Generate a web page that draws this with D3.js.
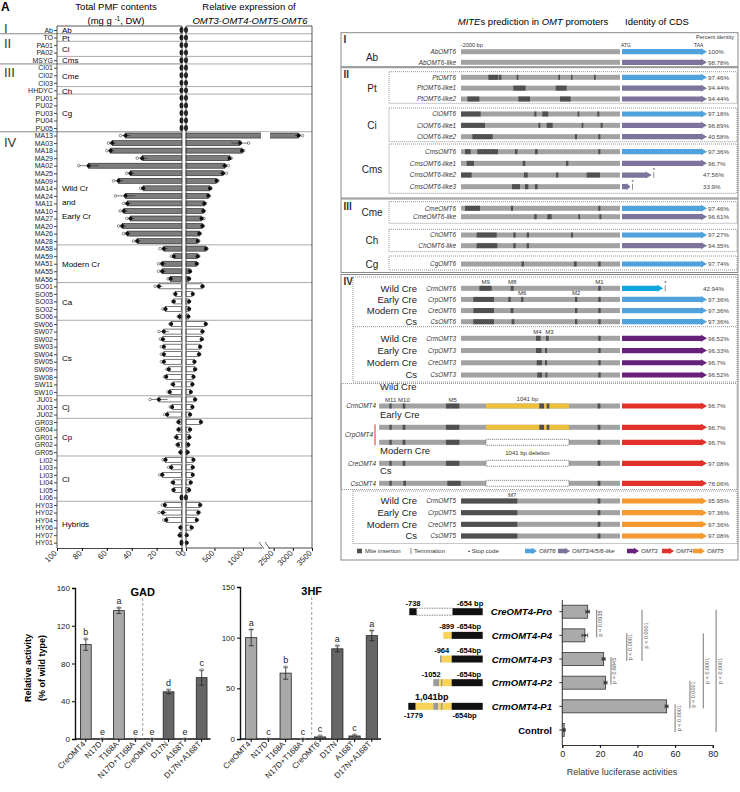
<!DOCTYPE html>
<html>
<head>
<meta charset="utf-8">
<script src="https://cdn.jsdelivr.net/npm/d3@7"></script>
<style>
body { margin: 0; background: #fff; }
svg { font-family: "Liberation Sans", Arial, sans-serif; }
</style>
</head>
<body>
<svg id="fig" width="740" height="792"></svg>
<script>
// ---------- data : A (PMF content / OMT expression) ----------
const accessions = ['Ab','TO','PA01','PA02','MSYG','CI01','CI02','CI03','HHDYC','PU01','PU02','PU03','PU04','PU05',
	'MA13','MA03','MA18','MA29','MA02','MA25','MA09','MA14','MA24','MA11','MA10','MA27','MA20','MA26','MA28',
	'MA58','MA59','MA51','MA55','MA56',
	'SO01','SO05','SO03','SO02','SO06',
	'SW06','SW07','SW02','SW03','SW04','SW05','SW09','SW08','SW11','SW10',
	'JU01','JU03','JU02',
	'GR03','GR04','GR01','GR02','GR05',
	'LI02','LI03','LI03','LI04','LI05','LI06',
	'HY03','HY02','HY04','HY06','HY07','HY01']
const groupNames = ['Ab','Pt','Ci','Cms','Cme','Ch','Cg','Wild Cr|and|Early Cr','Modern Cr','Ca','Cs','Cj','Cp','Cl','Hybrids']
const groupSizes = [1,1,2,1,3,1,5,15,5,5,10,3,5,6,6]
const sectionNames = ['I','II','III','IV']
const sectionGroups = [1,3,3,8]
const darkGroups = ['Wild Cr|and|Early Cr','Modern Cr']
const pmfContent = [0,0,0,0,0,0,0,0,0,0,0,0,0,0,
	45,55.7,57,31.6,74.6,41,50.6,30.8,45,43.6,46.3,41,47.6,43.6,35.6,
	14.2,6.2,15.5,15.5,8.8,
	18.2,4.8,6.2,12.9,1.6,
	8.3,14.2,15,14.2,14.2,14.2,10.2,12.3,6.7,9.4,
	18.2,7.5,11.5,
	2.2,2.2,4,2.8,0.8,
	12.9,8.3,15.5,6.7,6.2,0,
	13.4,15,12.3,0.8,1.4,0]
const pmfSd = [0,0,0,0,0,0,0,0,0,0,0,0,0,0,
	4,3,3,4,8,3,4,2,8,3,3,3,3,3,3,
	3,2,3,3,2,
	3,1,1,2,1,
	1,4,2,2,2,2,1.5,1.5,1,1.5,
	7,1.5,2,
	1,1,1,1,0.5,
	2,2,2,1,1,0.5,
	2,3,2,0.5,0.5,0.5]
const omtExpression = [0,0,0,0,0,0,0,0,0,0,0,0,0,0,
	3150,950,985,765,684,650,538,421,392,322,304,275,287,234,205,
	351,205,187,70,53,
	287,117,53,53,41,
	345,287,275,246,228,146,158,129,111,82,
	158,111,70,
	260,70,58,41,29,
	129,117,117,82,53,0,
	246,216,187,99,12,12]
const omtSd = [0,0,0,0,0,0,0,0,0,0,0,0,0,0,
	100,150,30,30,60,60,25,20,20,20,20,40,20,20,20,
	20,20,15,10,10,
	20,10,10,10,5,
	15,15,15,15,15,15,15,15,10,10,
	15,10,10,
	15,10,10,5,5,
	10,10,10,10,10,5,
	15,20,15,10,5,5]
const pmfTicks = [100,80,60,40,20,0]
const exprTicks = [0,500,1000,2500,3000,3500]

// ---------- data : B (MITEs in OMT promoters) ----------
const geneNames = ['AbOMT6','AbOMT6-like','PtOMT6','PtOMT6-like1','PtOMT6-like2','CiOMT6','CiOMT6-like1','CiOMT6-like2',
	'CmsOMT6','CmsOMT6-like1','CmsOMT6-like2','CmsOMT6-like3','CmeOMT6','CmeOMT6-like','ChOMT6','ChOMT6-like','CgOMT6',
	'CrmOMT6','CrpOMT6','CreOMT6','CsOMT6','CrmOMT3','CrpOMT3','CreOMT3','CsOMT3',
	'CrmOMT4','CrpOMT4','CrpOMT4','CreOMT4','CsOMT4','CrmOMT5','CrpOMT5','CreOMT5','CsOMT5']
const geneCds = ['OMT6','like','OMT6','like','like','OMT6','like','like','OMT6','like','like','like','OMT6','like','OMT6','like','OMT6',
	'wild','OMT6','OMT6','OMT6','OMT3','OMT3','OMT3','OMT3','OMT4','OMT4','OMT4','OMT4','OMT4','OMT5','OMT5','OMT5','OMT5']
const geneCdsLength = [1,1,1,1,1,1,1,1,1,1,0.35,0.1,1,1,1,1,1,0.485,1,1,1,1,1,1,1,1,1,1,1,1,1,1,1,1]
const geneIdentity = ['100%','98.78%','97.46%','94.44%','94.44%','97.18%','96.89%','40.58%','97.36%','96.7%','47.56%','33.9%',
	'97.46%','96.61%','97.27%','94.35%','97.74%','42.94%','97.36%','97.36%','97.36%','96.52%','96.33%','96.7%','96.52%',
	'96.7%','96.7%','96.7%','97.08%','78.06%','95.95%','97.36%','97.36%','97.08%']
const genePromoterStart = [-2000,-2000,-2000,-2000,-2000,-2000,-2000,-2000,-2000,-2000,-2000,-2000,-2000,-2000,-2000,-2000,-2000,
	-2000,-2000,-2000,-2000,-2000,-2000,-2000,-2000,-3030,-3030,-3030,-3030,-3030,-2000,-2000,-2000,-2000]
const geneInsert = [null,null,null,null,null,null,null,null,null,null,null,null,null,null,null,null,null,
	null,null,null,null,null,null,null,null,'ins','ins','del','del','del',null,null,null,null]
const insertRegion = [-1686,-642]   // 1041 bp
const geneMites = [
	[], [],
	[[-1656,-1530],[-1520,-1492],[-1300,-1279],[-776,-755],[-616,-600],[-327,-306]],
	[[-1342,-1187],[-809,-671]],
	[[-1920,-1769],[-1279,-1132],[-755,-621]],
	[[-2000,-1753],[-1078,-1052],[-977,-902],[-533,-512],[-285,-260]],
	[[-2000,-1698],[-1027,-1002],[-922,-847],[-482,-461],[-243,-218]],
	[[-1857,-1602],[-566,-541],[-273,-247]],
	[[-1950,-1878],[-1795,-1535],[-1321,-1291],[-1069,-1036],[-273,-247]],
	[[-1929,-1837],[-1224,-1191],[-679,-650]],
	[[-2000,-1866],[-1208,-1161],[-805,-776],[-419,-252]],
	[[-1359,-1258],[-1195,-1153],[-1069,-1036]],
	[[-1950,-1761],[-1371,-1346],[-273,-247]],
	[[-1078,-1048],[-915,-860],[-524,-503],[-260,-235]],
	[[-1803,-1551],[-1342,-1312],[-1174,-1145],[-616,-591]],
	[[-1803,-1543],[-1342,-1312],[-1174,-1145]],
	[[-1237,-1208],[-579,-545],[-273,-243]],
	[[-1769,-1614],[-1375,-1338],[-273,-243]],
	[[-1845,-1585],[-1405,-1375],[-1245,-1216],[-566,-537],[-273,-243]],
	[[-1845,-1585],[-1375,-1342],[-566,-537],[-273,-243]],
	[[-1845,-1585],[-1363,-1329],[-566,-537],[-273,-243]],
	[[-1057,-998],[-931,-897],[-273,-243]],
	[[-1057,-986],[-943,-918],[-273,-243]],
	[[-1048,-981],[-943,-918],[-273,-243]],
	[[-1040,-981],[-939,-914],[-273,-243]],
	[[-2901,-2872],[-2734,-2700],[-2189,-2021],[-1015,-956],[-922,-889],[-281,-247]],
	[[-2901,-2872],[-2734,-2700],[-2189,-2021],[-1015,-956],[-922,-889],[-281,-247]],
	[[-2901,-2872],[-2734,-2700],[-2189,-2021],[-281,-247]],
	[[-2901,-2872],[-2734,-2700],[-2189,-2021],[-281,-247]],
	[[-2901,-2872],[-2725,-2692],[-2172,-2004],[-281,-247]],
	[[-2000,-1291],[-281,-247]],
	[[-2000,-1291],[-281,-247]],
	[[-2000,-1291],[-281,-247]],
	[[-2000,-1291],[-281,-247]]
]
const miteLabels = [['M9',17,-1690],['M8',17,-1355],['M1',17,-258],['M6',18,-1230],['M2',18,-552],
	['M4',21,-1040],['M3',21,-889],['M11',25,-2885],['M10',25,-2718],['M5',25,-2105],['M7',30,-1355]]
const ivTypes = ['Wild Cre','Early Cre','Modern Cre','Cs']
const legendItems = ['OMT6','OMT3/4/5/6-like','OMT3','OMT4','OMT5']

// ---------- data : enzyme activity ----------
const variants = ['CreOMT4','N17D','T168A','N17D+T168A','CreOMT6','D17N','A168T','D17N+A168T']
const gadActivity = [100,0,136,0,0,50,0,65]
const gadSd = [6,0,3,0,0,2,0,8]
const gadLetters = ['b','e','a','e','e','d','e','c']
const hfActivity = [100,0,65,0,2,89,3,102]
const hfSd = [8,0,6,0,1,3,1,5]
const hfLetters = ['a','c','b','c','c','a','c','a']

// ---------- data : luciferase ----------
const constructs = ['CreOMT4-Pro','CrmOMT4-P4','CrmOMT4-P3','CrmOMT4-P2','CrmOMT4-P1','Control']
const lucActivity = [13.5,12,22,23,55.5,1]
const lucSd = [1,1.5,0.8,0.8,0.8,0.5]
const lucTests = [[0,1,'p = 0.0935',18.3],[2,3,'p = 0.6845',25.9],[1,2,'p < 0.0001',34.3],[0,2,'p < 0.0001',42.4],
	[4,5,'p < 0.0001',60],[3,4,'p < 0.0001',67.9],[1,4,'p < 0.0001',75],[0,5,'p < 0.0001',81.8]]

const svg = d3.select('#fig')
const ink = '#222'

// =============== A ===============
const A = svg.append('g')
A.append('text').attr('x', 1).attr('y', 11).text('A').style('font-size', '12px').style('font-weight', 'bold')

const rowY = d3.scalePoint().domain(d3.range(accessions.length)).range([30, 542.7])
const xL = d3.scaleLinear().domain([100, 0]).range([57, 181.5])
const xR = d3.scaleLinear().domain([0, 1300, 2300, 3500]).range([186, 260, 266, 312])
const plotTop = 26, plotBottom = 548, step = rowY.step()

// titles
A.append('text').attr('x', 116).attr('y', 10).attr('text-anchor', 'middle').style('font-size', '9.5px').text('Total PMF contents')
const t2 = A.append('text').attr('x', 116).attr('y', 23.5).attr('text-anchor', 'middle').style('font-size', '9.5px')
t2.append('tspan').text('(mg g ')
t2.append('tspan').attr('dy', -3).style('font-size', '6.5px').text('-1')
t2.append('tspan').attr('dy', 3).text(', DW)')
A.append('text').attr('x', 249).attr('y', 10).attr('text-anchor', 'middle').style('font-size', '9.5px').text('Relative expression of')
A.append('text').attr('x', 250).attr('y', 23.5).attr('text-anchor', 'middle').style('font-size', '9.5px')
	.style('font-style', 'italic').text('OMT3-OMT4-OMT5-OMT6')

// groups
let start = 0
const groupStart = groupSizes.map((n) => { const s = start; start += n; return s })
const groupOf = []
groupSizes.forEach((n, gi) => { for (let k = 0; k < n; k++) groupOf.push(gi) })

let gcount = 0
const sectionFirstGroup = sectionGroups.map((n) => { const s = gcount; gcount += n; return s })

groupStart.forEach((s, gi) => {
	if (gi === 0) return
	const y = rowY(s) - step / 2
	const isSection = sectionFirstGroup.includes(gi)
	A.append('line').attr('x1', isSection ? 0 : 57).attr('x2', 182).attr('y1', y).attr('y2', y)
		.attr('stroke', isSection ? '#888' : '#aaa').attr('stroke-width', 1)
	A.append('line').attr('x1', 186).attr('x2', 312).attr('y1', y).attr('y2', y)
		.attr('stroke', '#aaa').attr('stroke-width', 1)
})

// section numerals
const numeralShift = [3, 10.5, 9.5, 11]
sectionFirstGroup.forEach((gi, si) => {
	const y = rowY(groupStart[gi])
	A.append('text').attr('x', 4).attr('y', y + numeralShift[si]).text(sectionNames[si])
		.style('font-size', '13px').attr('fill', '#333')
})

// group labels
groupNames.forEach((name, gi) => {
	const n = groupSizes[gi]
	const cy = (rowY(groupStart[gi]) + rowY(groupStart[gi] + n - 1)) / 2
	const lines = name.split('|')
	lines.forEach((ln, li) => {
		A.append('text').attr('x', 62).attr('y', cy + 3.3 + (lines.length > 1 ? li * 14 - 1 : 0))
			.style('font-size', '8px').text(ln)
	})
})

// bars
const bars = A.append('g')
accessions.forEach((name, i) => {
	const y = rowY(i)
	const dark = darkGroups.includes(groupNames[groupOf[i]])
	const fill = dark ? '#7d7d7d' : '#fff'
	if (pmfContent[i] > 0) {
		bars.append('rect').attr('x', xL(pmfContent[i])).attr('y', y - 2.5)
			.attr('width', xL(0) - xL(pmfContent[i])).attr('height', 5)
			.attr('fill', fill).attr('stroke', ink).attr('stroke-width', 0.6)
	}
	if (omtExpression[i] > 0) {
		bars.append('rect').attr('x', xR(0)).attr('y', y - 2.5)
			.attr('width', xR(omtExpression[i]) - xR(0)).attr('height', 5)
			.attr('fill', fill).attr('stroke', ink).attr('stroke-width', 0.6)
		if (omtExpression[i] > 1300) {
			bars.append('rect').attr('x', xR(1300) + 1).attr('y', y - 3.5).attr('width', xR(2300) - xR(1300) + 3)
				.attr('height', 7).attr('fill', '#fff')
		}
	}
})

// points
const pts = A.append('g')
accessions.forEach((name, i) => {
	const y = rowY(i)
	if (pmfContent[i] === 0) {
		pts.append('ellipse').attr('cx', xL(0)).attr('cy', y).attr('rx', 1.9).attr('ry', 2.9).attr('fill', '#111')
	} else {
		pts.append('line').attr('x1', xL(pmfContent[i] - pmfSd[i])).attr('x2', xL(pmfContent[i] + pmfSd[i]))
			.attr('y1', y).attr('y2', y).attr('stroke', ink).attr('stroke-width', 0.6)
		pts.append('circle').attr('cx', xL(pmfContent[i] + pmfSd[i])).attr('cy', y).attr('r', 1.3)
			.attr('fill', '#fff').attr('stroke', ink).attr('stroke-width', 0.5)
		pts.append('circle').attr('cx', xL(pmfContent[i])).attr('cy', y).attr('r', 2).attr('fill', '#111')
	}
	if (omtExpression[i] === 0) {
		pts.append('ellipse').attr('cx', xR(0)).attr('cy', y).attr('rx', 1.9).attr('ry', 2.9).attr('fill', '#111')
	} else {
		pts.append('line').attr('x1', xR(Math.max(0, omtExpression[i] - omtSd[i]))).attr('x2', xR(omtExpression[i] + omtSd[i]))
			.attr('y1', y).attr('y2', y).attr('stroke', ink).attr('stroke-width', 0.6)
		pts.append('circle').attr('cx', xR(omtExpression[i] + omtSd[i])).attr('cy', y).attr('r', 1.3)
			.attr('fill', '#fff').attr('stroke', ink).attr('stroke-width', 0.5)
		pts.append('circle').attr('cx', xR(omtExpression[i])).attr('cy', y).attr('r', 2).attr('fill', '#111')
	}
})

// frames
A.append('path').attr('d', `M57,${plotBottom}V${plotTop}H182V${plotBottom}`).attr('fill', 'none').attr('stroke', '#444').attr('stroke-width', 0.9)
A.append('path').attr('d', `M186,${plotBottom}V${plotTop}H312V${plotBottom}`).attr('fill', 'none').attr('stroke', '#444').attr('stroke-width', 0.9)

// axes
const rowAxis = A.append('g').attr('transform', 'translate(57,0)')
	.call(d3.axisLeft(rowY).tickSize(3).tickPadding(1).tickFormat((i) => accessions[i]))
rowAxis.select('.domain').remove()
rowAxis.selectAll('text').style('font-size', '7px').attr('fill', ink)
rowAxis.selectAll('line').attr('stroke', '#444')

function rotateTicks(sel, size) {
	sel.selectAll('text').attr('x', -4).attr('y', 4).attr('dy', 0)
		.attr('transform', 'rotate(-45)').style('text-anchor', 'end').style('font-size', size).attr('fill', ink)
}
const axL = A.append('g').attr('transform', `translate(0,${plotBottom})`)
	.call(d3.axisBottom(xL).tickValues(pmfTicks).tickSize(3).tickFormat(d3.format('d')))
axL.select('.domain').attr('stroke', '#444')
rotateTicks(axL, '8px')
const axR = A.append('g').attr('transform', `translate(0,${plotBottom})`)
	.call(d3.axisBottom(xR).tickValues(exprTicks).tickSize(3).tickFormat(d3.format('d')))
axR.select('.domain').remove()
rotateTicks(axR, '8px')
A.append('line').attr('x1', 186).attr('x2', xR(1300) + 2).attr('y1', plotBottom).attr('y2', plotBottom).attr('stroke', '#444')
A.append('line').attr('x1', xR(2300) + 2).attr('x2', 312).attr('y1', plotBottom).attr('y2', plotBottom).attr('stroke', '#444')
;[xR(1300) + 2, xR(2300) + 2].forEach((x) => {
	A.append('line').attr('x1', x - 3).attr('x2', x + 2).attr('y1', plotBottom - 6).attr('y2', plotBottom + 1)
		.attr('stroke', '#444').attr('stroke-width', 0.8)
})

// =============== B ===============
const B = svg.append('g')
const px = d3.scaleLinear().domain([-2000, 0]).range([461, 620])
const cdsX = d3.scaleLinear().domain([0, 1]).range([622, 707])
const cdsColor = { OMT6: '#4fa2db', wild: '#0ea5dd', like: '#7e739c', OMT3: '#68217a', OMT4: '#e2312b', OMT5: '#f49a30' }
const promoterGrey = '#a2a2a2', miteGrey = '#505050', insYellow = '#ecc03c'

B.append('text').attr('x', 533).attr('y', 25).attr('text-anchor', 'middle').style('font-size', '9.5px')
	.call((t) => { t.append('tspan').style('font-style', 'italic').text('MITE'); t.append('tspan').text('s prediction in ');
		t.append('tspan').style('font-style', 'italic').text('OMT'); t.append('tspan').text(' promoters') })
B.append('text').attr('x', 657).attr('y', 25).attr('text-anchor', 'middle').style('font-size', '9.5px').text('Identity of CDS')

// section frames
const sectionBoxes = [[32.7, 66.7], [67.7, 198], [199, 272.5], [274.5, 560]]
sectionBoxes.forEach(([y0, y1], si) => {
	B.append('rect').attr('x', 341).attr('y', y0).attr('width', 397).attr('height', y1 - y0)
		.attr('fill', 'none').attr('stroke', '#8a8a8a').attr('stroke-width', 1)
	B.append('text').attr('x', 343.5).attr('y', y0 + 10.5).text(sectionNames[si])
		.style('font-size', '10px').style('font-weight', 'bold').attr('fill', '#333')
})
const dottedBoxes = [[389, 71.7, 103.3], [389, 108, 141.7], [389, 144, 193.3], [389, 201.7, 223.3], [389, 229.3, 251.7],
	[389, 256, 270], [353, 277, 382], [341, 383.5, 489.5], [353, 491, 543.5]]
dottedBoxes.forEach(([x0, y0, y1]) => {
	B.append('rect').attr('x', x0).attr('y', y0).attr('width', 737 - x0).attr('height', y1 - y0)
		.attr('fill', 'none').attr('stroke', '#777').attr('stroke-width', 0.8).attr('stroke-dasharray', '1,1')
})
B.append('line').attr('x1', 353).attr('x2', 737).attr('y1', 326.7).attr('y2', 326.7)
	.attr('stroke', '#777').attr('stroke-width', 0.8).attr('stroke-dasharray', '1,1')

// row layout : gene rows inside each box
const rowLayout = [
	{ rows: [0, 1], y: [51.7, 62.3], label: 'Ab' },
	{ rows: [2, 3, 4], y: [77.3, 99], label: 'Pt' },
	{ rows: [5, 6, 7], y: [114, 136.7], label: 'Ci' },
	{ rows: [8, 9, 10, 11], y: [151.7, 186.7], label: 'Cms' },
	{ rows: [12, 13], y: [208.3, 216.7], label: 'Cme' },
	{ rows: [14, 15], y: [235, 245.7], label: 'Ch' },
	{ rows: [16], y: [264, 264], label: 'Cg' },
	{ rows: [17, 18, 19, 20], y: [288.3, 321.7] },
	{ rows: [21, 22, 23, 24], y: [338.3, 375] },
	{ rows: [25, 26, 27, 28, 29], y: [406, 483.3], irregular: [406, 427.3, 442.3, 463.3, 483.3] },
	{ rows: [30, 31, 32, 33], y: [501, 536] }
]
const geneY = []
rowLayout.forEach((box) => {
	const s = d3.scalePoint().domain(box.rows).range(box.y)
	box.rows.forEach((r, k) => { geneY[r] = box.irregular ? box.irregular[k] : s(r) })
	if (box.label) {
		B.append('text').attr('x', 372).attr('y', (box.y[0] + box.y[1]) / 2 + 3.5).attr('text-anchor', 'middle')
			.style('font-size', '10px').attr('fill', '#222').text(box.label)
	}
})

function arrowPath(x0, x1, y, h, H, tip) {
	return `M${x0},${y - h}H${x1 - tip}V${y - H}L${x1},${y}L${x1 - tip},${y + H}V${y + h}H${x0}Z`
}

geneNames.forEach((name, i) => {
	const y = geneY[i]
	const g = B.append('g')
	const isOMT4 = i >= 25 && i <= 29
	// gene label
	if (!isOMT4) {
		g.append('text').attr('x', 456).attr('y', y + 2.3).attr('text-anchor', 'end')
			.style('font-size', '6.4px').style('font-style', 'italic').attr('fill', '#333').text(name)
	} else if (i !== 26 && i !== 27) {
		g.append('text').attr('x', 376).attr('y', y + 2.3).attr('text-anchor', 'end')
			.style('font-size', '6.4px').style('font-style', 'italic').attr('fill', '#333').text(name)
	}
	// promoter
	g.append('rect').attr('x', px(genePromoterStart[i])).attr('y', y - 2.5)
		.attr('width', px(0) - px(genePromoterStart[i])).attr('height', 5).attr('fill', promoterGrey)
	if (geneInsert[i] === 'ins') {
		g.append('rect').attr('x', px(insertRegion[0])).attr('y', y - 2.5)
			.attr('width', px(insertRegion[1]) - px(insertRegion[0])).attr('height', 5).attr('fill', insYellow)
	} else if (geneInsert[i] === 'del') {
		g.append('rect').attr('x', px(insertRegion[0])).attr('y', y - 3)
			.attr('width', px(insertRegion[1]) - px(insertRegion[0])).attr('height', 6).attr('fill', '#fff')
			.attr('stroke', '#444').attr('stroke-width', 0.6).attr('stroke-dasharray', '1.2,0.8')
	}
	geneMites[i].forEach(([a, b]) => {
		g.append('rect').attr('x', px(a)).attr('y', y - 2.5).attr('width', Math.max(1.5, px(b) - px(a)))
			.attr('height', 5).attr('fill', miteGrey)
	})
	// CDS
	const x1 = cdsX(geneCdsLength[i])
	const tip = geneCdsLength[i] < 0.2 ? 4 : 6
	g.append('path').attr('d', arrowPath(cdsX(0), x1, y, 2.6, 3.5, tip)).attr('fill', cdsColor[geneCds[i]])
	if (geneCdsLength[i] < 1) {
		g.append('line').attr('x1', x1 + 2).attr('x2', x1 + 2).attr('y1', y - 3).attr('y2', y + 3)
			.attr('stroke', '#444').attr('stroke-width', 0.6)
		g.append('text').attr('x', x1 + 1).attr('y', y - 3).style('font-size', '6px').attr('fill', '#444').text('*')
	}
	g.append('text').attr('x', geneCdsLength[i] < 1 ? 703 : 708).attr('y', y + 2.2)
		.style('font-size', '6.2px').attr('fill', '#444').text(geneIdentity[i])
})

// section IV names
;[17, 21, 30].forEach((first) => {
	ivTypes.forEach((t, k) => {
		B.append('text').attr('x', 417).attr('y', geneY[first + k] + 3.4).attr('text-anchor', 'end')
			.style('font-size', '9.5px').attr('fill', '#222').text(t)
	})
})
;[[25, 'Wild Cre', -16], [26, 'Early Cre', -9], [28, 'Modern Cre', -9.3], [29, 'Cs', -9]].forEach(([r, t, dy]) => {
	B.append('text').attr('x', 380).attr('y', geneY[r] + dy).style('font-size', '9.5px').attr('fill', '#222').text(t)
})
B.append('text').attr('x', 373).attr('y', (geneY[26] + geneY[27]) / 2 + 2.3).attr('text-anchor', 'end')
	.style('font-size', '6.4px').style('font-style', 'italic').attr('fill', '#333').text('CrpOMT4')
B.append('line').attr('x1', 375).attr('x2', 375).attr('y1', geneY[26] - 3).attr('y2', geneY[27] + 3)
	.attr('stroke', '#e2312b').attr('stroke-width', 1)
B.append('text').attr('x', (px(insertRegion[0]) + px(insertRegion[1])) / 2).attr('y', geneY[25] - 5)
	.attr('text-anchor', 'middle').style('font-size', '6px').attr('fill', '#333').text('1041 bp')
B.append('text').attr('x', (px(insertRegion[0]) + px(insertRegion[1])) / 2).attr('y', geneY[27] + 12.5)
	.attr('text-anchor', 'middle').style('font-size', '6px').attr('fill', '#333').text('1041 bp deletion')
miteLabels.forEach(([lab, r, bp]) => {
	B.append('text').attr('x', px(bp)).attr('y', geneY[r] - 4).attr('text-anchor', 'middle')
		.style('font-size', '6px').attr('fill', '#333').text(lab)
})

// section I annotations
B.append('text').attr('x', px(-2000)).attr('y', 47).style('font-size', '5.5px').attr('fill', '#333').text('-2000 bp')
B.append('text').attr('x', 621).attr('y', 47).style('font-size', '5px').attr('fill', '#333').text('ATG')
B.append('text').attr('x', 694).attr('y', 47).style('font-size', '5px').attr('fill', '#333').text('TAA')
B.append('text').attr('x', 734).attr('y', 39).attr('text-anchor', 'end').style('font-size', '5.5px').attr('fill', '#333').text('Percent identity')

// legend
const ly = 551
B.append('rect').attr('x', 357).attr('y', ly - 2.3).attr('width', 5).attr('height', 4.6).attr('fill', miteGrey)
B.append('text').attr('x', 365).attr('y', ly + 2).style('font-size', '6px').attr('fill', '#333').text('Mite insertion')
B.append('line').attr('x1', 411).attr('x2', 411).attr('y1', ly - 3).attr('y2', ly + 3).attr('stroke', '#333').attr('stroke-width', 0.6)
B.append('text').attr('x', 414).attr('y', ly + 2).style('font-size', '6px').attr('fill', '#333').text('Termination')
B.append('text').attr('x', 468).attr('y', ly + 2).style('font-size', '6px').attr('fill', '#333').text('• Stop code')
const legendColors = ['OMT6', 'like', 'OMT3', 'OMT4', 'OMT5']
const legendX = [525, 558, 627, 662, 693]
legendItems.forEach((it, k) => {
	const x = legendX[k]
	B.append('path').attr('d', arrowPath(x, x + 12, ly, 2.2, 3.2, 5)).attr('fill', cdsColor[legendColors[k]])
	B.append('text').attr('x', x + 14).attr('y', ly + 2).style('font-size', '6px').style('font-style', 'italic')
		.attr('fill', '#333').text(it)
})

// =============== enzyme activity ===============
function activityChart(opts) {
	const g = svg.append('g')
	const y = d3.scaleLinear().domain([0, opts.max]).range([739, opts.top])
	const x = d3.scaleBand().domain(variants).range(opts.range).paddingInner(0.35).paddingOuter(0.15)
	const yAx = g.append('g').attr('transform', `translate(${opts.range[0] - 3},0)`)
		.call(d3.axisLeft(y).tickValues(opts.ticks).tickSize(3).tickPadding(2))
	yAx.selectAll('text').style('font-size', '8px').attr('fill', ink)
	yAx.select('.domain').attr('stroke-width', 1.4).attr('stroke', '#111')
	const xAx = g.append('g').attr('transform', 'translate(0,739)')
		.call(d3.axisBottom(x).tickSize(3).tickSizeOuter(0))
	xAx.select('.domain').attr('d', `M${opts.range[0] - 3},0H${opts.range[1] + 1}`).attr('stroke-width', 1.4).attr('stroke', '#111')
	rotateTicks(xAx, '8px')
	g.append('line').attr('x1', opts.dash).attr('x2', opts.dash).attr('y1', opts.top + 10).attr('y2', 739)
		.attr('stroke', '#888').attr('stroke-dasharray', '3,2').attr('stroke-width', 0.8)
	g.append('text').attr('x', opts.dash).attr('y', opts.top + 8).attr('text-anchor', 'middle')
		.style('font-size', '11px').style('font-weight', 'bold').text(opts.title)
	variants.forEach((v, i) => {
		const val = opts.values[i], sd = opts.sd[i]
		const cx = x(v) + x.bandwidth() / 2
		g.append('rect').attr('x', x(v)).attr('y', y(val)).attr('width', x.bandwidth()).attr('height', 739 - y(val))
			.attr('fill', i < 4 ? '#a9a9a9' : '#666').attr('stroke', '#222').attr('stroke-width', 0.8)
		if (sd > 0) {
			g.append('path').attr('d', `M${cx - 2.5},${y(val + sd)}H${cx + 2.5}M${cx},${y(val + sd)}V${y(val - sd)}M${cx - 2.5},${y(val - sd)}H${cx + 2.5}`)
				.attr('stroke', '#222').attr('stroke-width', 0.8).attr('fill', 'none')
		}
		g.append('circle').attr('cx', cx).attr('cy', y(val + sd)).attr('r', 1.8)
			.attr('fill', 'none').attr('stroke', '#999').attr('stroke-width', 0.6)
		g.append('text').attr('x', cx).attr('y', y(val + sd) - 4).attr('text-anchor', 'middle')
			.style('font-size', '9px').attr('fill', ink).text(opts.letters[i])
	})
	return g
}
activityChart({ max: 160, top: 588, ticks: [0, 40, 80, 120, 160], range: [78, 209.5], values: gadActivity, sd: gadSd,
	letters: gadLetters, title: 'GAD', dash: 142.7 })
activityChart({ max: 150, top: 587, ticks: [0, 50, 100, 150], range: [243, 380], values: hfActivity, sd: hfSd,
	letters: hfLetters, title: '3HF', dash: 311.7 })
svg.append('text').attr('transform', 'translate(31,668) rotate(-90)').attr('text-anchor', 'middle')
	.style('font-size', '9px').style('font-weight', 'bold').text('Relative activity')
svg.append('text').attr('transform', 'translate(45,668) rotate(-90)').attr('text-anchor', 'middle')
	.style('font-size', '9px').style('font-weight', 'bold').text('(% of wild type)')

// =============== luciferase ===============
const L = svg.append('g')
const lx = d3.scaleLinear().domain([0, 80]).range([562.3, 712.7])
const ly2 = d3.scalePoint().domain(constructs).range([611.7, 730])
const lxAx = L.append('g').attr('transform', 'translate(0,745)').call(d3.axisBottom(lx).tickValues([0, 20, 40, 60, 80]).tickSize(3))
lxAx.selectAll('text').style('font-size', '9px').attr('fill', ink)
lxAx.select('.domain').attr('stroke', '#333')
L.append('line').attr('x1', lx(0)).attr('x2', lx(0)).attr('y1', 600).attr('y2', 745).attr('stroke', '#333')
L.append('text').attr('x', 622).attr('y', 775).attr('text-anchor', 'middle').style('font-size', '9px').attr('fill', '#333')
	.text('Relative luciferase  activities')
constructs.forEach((c, i) => {
	const y = ly2(c)
	L.append('line').attr('x1', lx(0) - 3).attr('x2', lx(0)).attr('y1', y).attr('y2', y).attr('stroke', '#333')
	L.append('text').attr('x', 552).attr('y', y + 3.5).attr('text-anchor', 'end').style('font-size', '9.5px')
		.style('font-weight', 'bold').style('font-style', c === 'Control' ? 'normal' : 'italic').text(c)
	L.append('rect').attr('x', lx(0)).attr('y', y - 6.5).attr('width', lx(lucActivity[i]) - lx(0)).attr('height', 13)
		.attr('fill', '#aaa').attr('stroke', '#333').attr('stroke-width', 0.8)
	const e0 = lx(lucActivity[i] - lucSd[i]), e1 = lx(lucActivity[i] + lucSd[i])
	L.append('path').attr('d', `M${e0},${y}H${e1}M${e0},${y - 2}V${y + 2}M${e1},${y - 2}V${y + 2}`)
		.attr('stroke', '#222').attr('stroke-width', 0.7)
	L.append('circle').attr('cx', lx(lucActivity[i])).attr('cy', y).attr('r', 1.4).attr('fill', '#333')
})
lucTests.forEach(([a, b, lab, xv]) => {
	const x = lx(xv), y0 = ly2(constructs[a]) - 2, y1 = ly2(constructs[b]) + 2
	L.append('line').attr('x1', x).attr('x2', x).attr('y1', y0).attr('y2', y1).attr('stroke', '#555').attr('stroke-width', 0.8)
	L.append('text').attr('transform', `translate(${x + 5.5},${(y0 + y1) / 2}) rotate(-90)`).attr('text-anchor', 'middle')
		.style('font-size', '5.5px').attr('fill', '#555').text(lab)
})

// promoter constructs (schematic positions)
const sx = d3.scaleLinear().domain([-1990, -654]).range([408.3, 482.7])
const constructSegments = [
	[['black', -1972, -1839], ['gap', -1839, -1193], ['black', -1193, -654]],
	[['yellow', -1361, -1211], ['black', -1211, -654]],
	[['grey', -1421, -1390], ['yellow', -1390, -1211], ['black', -1211, -654]],
	[['grey', -1541, -1433], ['yellow', -1433, -1211], ['grey', -1403, -1378], ['black', -1211, -654]],
	[['black', -1990, -1857], ['yellow', -1857, -1541], ['grey', -1541, -1451], ['yellow', -1451, -1211], ['grey', -1403, -1378], ['black', -1211, -654]]
]
const segFill = { black: '#111', yellow: '#f8d35a', grey: '#9a9a9a', gap: '#fff' }
constructSegments.forEach((segs, i) => {
	const y = ly2(constructs[i])
	segs.forEach(([t, a, b]) => {
		L.append('rect').attr('x', sx(a)).attr('y', y - 3.5).attr('width', sx(b) - sx(a)).attr('height', 7)
			.attr('fill', segFill[t]).attr('stroke', t === 'gap' ? '#333' : 'none').attr('stroke-width', 0.6)
			.attr('stroke-dasharray', t === 'gap' ? '1.5,1' : null)
	})
})
const constructLabels = [[0, '-738', -1905, -6], [0, '-654 bp', -880, -6], [1, '-899', -1300, -6], [1, '-654bp', -900, -6],
	[2, '-964', -1390, -6], [2, '-654bp', -900, -6], [3, '-1052', -1580, -6], [3, '-654bp', -900, -6],
	[4, '-1779', -1900, 12], [4, '-654bp', -980, 12]]
constructLabels.forEach(([i, t, bp, dy]) => {
	L.append('text').attr('x', sx(bp)).attr('y', ly2(constructs[i]) + dy).attr('text-anchor', 'middle')
		.style('font-size', '7.5px').style('font-weight', 'bold').text(t)
})
L.append('text').attr('x', sx(-1570)).attr('y', ly2(constructs[4]) - 6).attr('text-anchor', 'middle')
	.style('font-size', '9px').style('font-weight', 'bold').text('1,041bp')
</script>
</body>
</html>
